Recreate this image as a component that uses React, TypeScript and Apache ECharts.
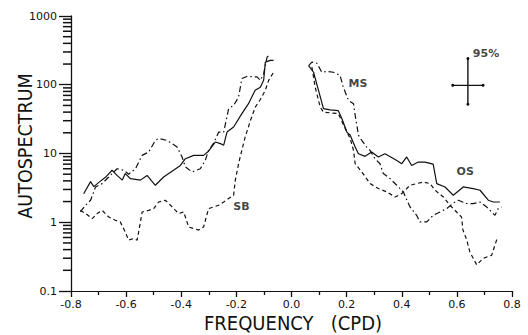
import React, { useEffect, useRef } from "react";
import * as echarts from "echarts";

// Frequency (CPD) / autospectrum pairs
const osLeft: [number, number][] = [
  [-0.754, 2.6], [-0.729, 3.9], [-0.717, 3.3], [-0.699, 3.8], [-0.675, 4.5], [-0.651, 5.7],
  [-0.633, 4.8], [-0.614, 4.1], [-0.603, 5.1], [-0.584, 4.3], [-0.548, 4.1], [-0.524, 4.8],
  [-0.494, 3.45], [-0.464, 4.55], [-0.428, 5.7], [-0.403, 6.7], [-0.385, 8.4], [-0.355, 9.4],
  [-0.319, 9.4], [-0.301, 10.8], [-0.276, 14.7], [-0.258, 13.9], [-0.246, 13.2], [-0.234, 20.5],
  [-0.21, 24.3], [-0.18, 38], [-0.156, 53], [-0.132, 83], [-0.113, 92], [-0.101, 116],
  [-0.095, 213], [-0.077, 226], [-0.065, 226],
];
const osRight: [number, number][] = [
  [0.062, 190], [0.08, 152], [0.098, 83], [0.116, 45], [0.14, 43], [0.17, 42], [0.183, 32],
  [0.201, 20.5], [0.213, 18.4], [0.231, 12.4], [0.243, 9.9], [0.267, 9.1], [0.291, 10.5],
  [0.315, 8.9], [0.339, 9.9], [0.376, 8.2], [0.4, 7.1], [0.418, 8.9], [0.436, 6.7],
  [0.46, 7.5], [0.484, 7.5], [0.514, 7.0], [0.527, 3.65], [0.557, 3.26], [0.587, 2.47],
  [0.623, 3.26], [0.659, 3.09], [0.684, 2.92], [0.714, 2.09], [0.732, 1.97], [0.756, 1.97],
];
const msLeft: [number, number][] = [
  [-0.766, 1.41], [-0.747, 1.77], [-0.729, 2.09], [-0.711, 3.26], [-0.687, 3.65], [-0.657, 4.8],
  [-0.633, 6.0], [-0.609, 5.7], [-0.591, 5.0], [-0.566, 6.0], [-0.542, 9.4], [-0.518, 10.5],
  [-0.494, 15.5], [-0.482, 16.5], [-0.451, 15.5], [-0.415, 12.4], [-0.397, 8.9], [-0.385, 6.4],
  [-0.361, 5.4], [-0.331, 6.0], [-0.313, 7.9], [-0.301, 11.1], [-0.283, 14], [-0.264, 20.5],
  [-0.246, 20.5], [-0.228, 45], [-0.21, 50], [-0.192, 66], [-0.18, 123], [-0.162, 132],
  [-0.125, 130], [-0.113, 116], [-0.101, 145], [-0.089, 250], [-0.083, 265],
];
const msRight: [number, number][] = [
  [0.062, 190], [0.074, 213], [0.092, 206], [0.11, 152], [0.128, 156], [0.152, 152],
  [0.176, 137], [0.188, 92], [0.207, 59], [0.225, 53], [0.231, 36], [0.243, 18.4],
  [0.255, 15.5], [0.273, 12.4], [0.285, 11.1], [0.303, 8.4], [0.321, 7.1], [0.333, 5.1],
  [0.358, 4.3], [0.382, 3.45], [0.406, 2.76], [0.416, 2.21], [0.43, 1.67], [0.454, 1.26],
  [0.466, 1.01], [0.491, 1.01], [0.514, 1.26], [0.539, 1.41], [0.563, 1.58], [0.587, 1.9],
  [0.605, 2.09], [0.636, 1.87], [0.659, 1.87], [0.684, 1.97], [0.708, 1.67], [0.738, 1.26],
  [0.75, 1.58], [0.762, 1.67],
];
const sbLeft: [number, number][] = [
  [-0.766, 1.49], [-0.747, 1.34], [-0.723, 1.13], [-0.705, 1.34], [-0.687, 1.49], [-0.663, 1.19],
  [-0.639, 1.07], [-0.621, 1.01], [-0.603, 0.72], [-0.591, 0.55], [-0.572, 0.58], [-0.56, 0.55],
  [-0.548, 1.01], [-0.542, 1.41], [-0.518, 1.49], [-0.5, 1.58], [-0.482, 1.97], [-0.458, 2.09],
  [-0.439, 1.77], [-0.421, 1.49], [-0.409, 1.34], [-0.391, 1.41], [-0.373, 0.85], [-0.355, 0.81],
  [-0.337, 0.77], [-0.319, 0.85], [-0.301, 1.58], [-0.283, 1.67], [-0.264, 1.77], [-0.246, 1.97],
  [-0.228, 2.21], [-0.21, 2.47], [-0.204, 4.07], [-0.192, 7.1], [-0.186, 9.0], [-0.168, 17.4],
  [-0.149, 30], [-0.132, 47], [-0.113, 61], [-0.095, 83], [-0.083, 116], [-0.065, 152],
];
const sbRight: [number, number][] = [
  [0.074, 181], [0.086, 92], [0.104, 47.5], [0.116, 40], [0.17, 38], [0.195, 23],
  [0.213, 16.5], [0.225, 11.1], [0.231, 7.1], [0.255, 5.4], [0.285, 3.65], [0.315, 3.09],
  [0.346, 2.76], [0.376, 2.33], [0.4, 2.61], [0.43, 3.45], [0.454, 3.65], [0.478, 3.85],
  [0.503, 3.65], [0.521, 2.92], [0.551, 2.33], [0.575, 1.77], [0.599, 1.41], [0.617, 1.19],
  [0.622, 0.77], [0.636, 0.55], [0.647, 0.37], [0.672, 0.24], [0.696, 0.3], [0.726, 0.33],
  [0.744, 0.55], [0.75, 0.58],
];

// 95% confidence cross
const ciFreq = 0.64;
const ciLevel = 98;
const ciVertical = [52, 240];
const ciHorizontal = [0.585, 0.695];

// Curve labels: [frequency, value, text]
const curveLabels: [number, number, string][] = [
  [0.207, 105, "MS"],
  [0.599, 5.4, "OS"],
  [-0.211, 1.71, "SB"],
  [0.658, 286, "95%"],
];

const xTicks = { min: -0.8, max: 0.8, interval: 0.2 };
const yDecades = [0.1, 1, 10, 100, 1000];
// minor ticks 2..9 of each decade
const yMinorTicks: number[] = [];
for (let d = 0; d < yDecades.length - 1; d++) {
  for (let k = 2; k <= 9; k++) yMinorTicks.push(+(yDecades[d] * k).toPrecision(3));
}

const INK = "#111";
const TITLE_FONT = "'DejaVu Sans Condensed', 'DejaVu Sans'";

export default function App() {
  const ref = useRef<HTMLDivElement>(null);
  useEffect(() => {
    if (!ref.current) return;
    const chart = echarts.init(ref.current, null, { renderer: "svg" });
    const lineSeries = (data: [number, number][], type: any) => ({
      type: "line",
      data,
      symbol: "none",
      lineStyle: { color: INK, width: 1.2, type },
      z: 3,
    });
    const dash = [4, 3];
    const dashDot = [6, 3, 1.5, 3];
    chart.setOption({
      animation: false,
      backgroundColor: "#fff",
      grid: { left: 71, right: 16, top: 16, bottom: 44 },
      xAxis: {
        type: "value",
        min: xTicks.min,
        max: xTicks.max,
        interval: xTicks.interval,
        axisLine: { onZero: false, lineStyle: { color: INK, width: 1.2 } },
        axisTick: { length: 6, lineStyle: { color: INK, width: 1.3 } },
        minorTick: { show: true, splitNumber: 2, length: 4, lineStyle: { color: INK, width: 1.3 } },
        splitLine: { show: false },
        minorSplitLine: { show: false },
        axisLabel: {
          color: INK,
          fontFamily: "DejaVu Sans",
          fontSize: 11,
          margin: 8,
          formatter: (v: number) => v.toFixed(1),
        },
      },
      yAxis: {
        type: "log",
        logBase: 10,
        min: 0.1,
        max: 1000,
        position: "left",
        axisLine: { show: true, onZero: false, lineStyle: { color: INK, width: 1.3 } },
        axisTick: { show: true, length: 12, lineStyle: { color: INK, width: 1.3 } },
        splitLine: { show: false },
        axisLabel: {
          color: INK,
          fontFamily: "DejaVu Sans",
          fontSize: 11,
          margin: 14,
          formatter: (v: number) => (v < 1 ? "0.1" : String(Math.round(v))),
        },
      },
      graphic: [
        {
          type: "text",
          x: 25,
          y: 146,
          rotation: Math.PI / 2,
          style: {
            text: "AUTOSPECTRUM",
            fill: INK,
            font: `19.5px ${TITLE_FONT}`,
            textAlign: "center",
            textVerticalAlign: "middle",
          },
        },
        {
          type: "text",
          x: 293,
          y: 323,
          style: {
            text: "FREQUENCY   (CPD)",
            fill: INK,
            font: `20px ${TITLE_FONT}`,
            textAlign: "center",
            textVerticalAlign: "middle",
          },
        },
      ],
      series: [
        { name: "OS", ...lineSeries(osLeft, "solid") },
        { name: "OS", ...lineSeries(osRight, "solid") },
        { name: "MS", ...lineSeries(msLeft, dashDot) },
        { name: "MS", ...lineSeries(msRight, dashDot) },
        { name: "SB", ...lineSeries(sbLeft, dash) },
        { name: "SB", ...lineSeries(sbRight, dash) },
        {
          type: "line",
          data: [[ciFreq, ciVertical[0]], [ciFreq, ciVertical[1]]],
          symbol: "circle",
          symbolSize: 3,
          itemStyle: { color: INK },
          lineStyle: { color: INK, width: 1.4 },
        },
        {
          type: "line",
          data: [[ciHorizontal[0], ciLevel], [ciHorizontal[1], ciLevel]],
          symbol: "circle",
          symbolSize: 3,
          itemStyle: { color: INK },
          lineStyle: { color: INK, width: 1.4 },
        },
        {
          type: "scatter",
          symbolSize: 0,
          data: curveLabels.map((l) => ({ value: [l[0], l[1]], name: l[2] })),
          label: {
            show: true,
            position: "right",
            distance: 0,
            formatter: (p: any) => p.name,
            color: INK,
            fontFamily: "DejaVu Sans",
            fontWeight: "bold",
            fontSize: 11,
          },
        },
        {
          // minor log ticks on the y axis, placed through the axis scale
          type: "scatter",
          silent: true,
          clip: false,
          symbol: "rect",
          symbolSize: [8, 1.5],
          symbolOffset: [-4, 0],
          itemStyle: { color: INK, opacity: 1 },
          data: yMinorTicks.map((v) => [xTicks.min, v]),
          z: 5,
        },
      ],
    });
    return () => chart.dispose();
  }, []);
  return <div ref={ref} style={{ position: "fixed", left: 0, top: 0, width: 528, height: 335 }} />;
}
